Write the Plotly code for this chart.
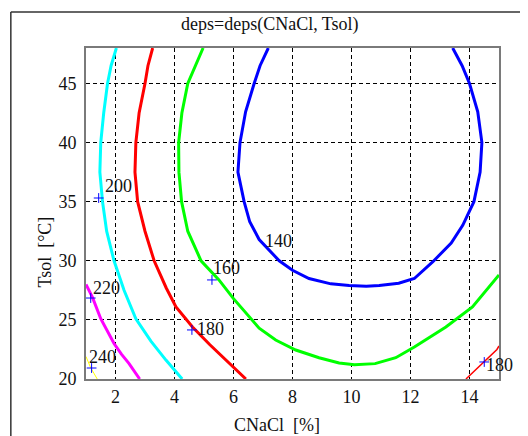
import plotly.graph_objects as go

# contour level 140 (blue)
c140_x = [7.18, 6.9, 6.7, 6.41, 6.22, 6.15, 6.36, 6.55, 6.87, 7.55, 8.0, 8.56, 9.3, 9.92, 10.5, 10.94, 11.6, 12.13, 12.75, 13.38, 13.77, 14.15, 14.36, 14.42, 14.28, 14.0, 13.75, 13.43]
c140_y = [48, 46.5, 45, 42.6, 40, 37.5, 35, 33.3, 31.8, 30, 29.2, 28.5, 28.05, 27.9, 27.85, 27.9, 28.1, 28.5, 29.9, 31.5, 33.0, 35, 37.5, 40, 42.6, 45, 46.5, 48]
# contour level 160 (green)
c160_x = [4.97, 4.7, 4.45, 4.25, 4.14, 4.15, 4.24, 4.45, 4.9, 5.5, 6.0, 6.87, 7.43, 8.11, 8.9, 9.58, 10.1, 10.8, 11.5, 12.13, 13.2, 14.1, 15.0]
c160_y = [48, 46.5, 45, 42.5, 40, 37.5, 35, 32.5, 30, 28.4, 26.8, 24.3, 23.3, 22.45, 21.8, 21.35, 21.2, 21.3, 21.8, 22.7, 24.4, 26.1, 28.8]
# contour level 180 (red), left branch and right corner piece
c180_x = [3.26, 3.1, 3.0, 2.8, 2.69, 2.66, 2.75, 3.0, 3.31, 3.72, 4.05, 4.61, 5.2, 5.69, 6.1, 6.42]
c180_y = [48, 46.5, 45, 42.5, 40, 37.5, 35, 32.5, 30, 27.7, 26.1, 24.4, 22.9, 21.75, 20.8, 20]
c180r_x = [13.88, 14.4, 14.93, 15.0]
c180r_y = [20, 21.2, 22.5, 22.8]
# contour level 200 (cyan)
c200_x = [2.03, 1.85, 1.73, 1.6, 1.5, 1.47, 1.56, 1.7, 1.95, 2.29, 2.69, 3.2, 3.71, 4.26]
c200_y = [48, 46.5, 45, 42.5, 40, 37.5, 35, 32.5, 30, 27.5, 25.1, 23.2, 21.6, 20]
# contour level 220 (magenta)
c220_x = [1.0, 1.22, 1.5, 1.75, 1.95, 2.2, 2.46, 2.82]
c220_y = [28.0, 26.9, 25.1, 23.9, 23.0, 22.1, 21.3, 20]
# contour level 240 (yellow)
c240_x = [1.0, 1.15, 1.38]
c240_y = [21.9, 21.0, 20]

# contour labels (data coordinates)
lab_text = ["140", "160", "180", "200", "220", "240"]
lab_x = [7.51, 5.76, 5.22, 2.11, 1.70, 1.55]
lab_y = [31.68, 29.35, 24.27, 36.29, 27.70, 21.86]
# label sitting on the right border (paper coordinates, since it straddles the axis edge)
edge_lab_text = "180"
edge_lab_pos = (1.0024, 0.0438)
mark_x = [5.27, 4.59, 14.5, 1.43, 1.16, 1.19]
mark_y = [28.38, 24.15, 21.44, 35.31, 26.85, 20.93]

x_ticks = [2, 4, 6, 8, 10, 12, 14]
y_ticks = [20, 25, 30, 35, 40, 45]

FONT = "Liberation Serif"
TXT = "#111111"

fig = go.Figure()
series = [
    (c140_x, c140_y, "#0000FF", 3),
    (c160_x, c160_y, "#00FF00", 3),
    (c180_x, c180_y, "#FF0000", 3),
    (c180r_x, c180r_y, "#FF0000", 1.5),
    (c200_x, c200_y, "#00FFFF", 3),
    (c220_x, c220_y, "#FF00FF", 3),
    (c240_x, c240_y, "#FFFF00", 1),
]
for xs, ys, col, w in series:
    fig.add_trace(go.Scatter(x=xs, y=ys, mode="lines", line=dict(color=col, width=w),
                             hoverinfo="skip", showlegend=False))

fig.add_trace(go.Scatter(x=mark_x, y=mark_y, mode="markers",
                         marker=dict(symbol="cross-thin", size=7, line=dict(color="#0000FF", width=1)),
                         showlegend=False, hoverinfo="skip"))

for t, x, y in zip(lab_text, lab_x, lab_y):
    fig.add_annotation(x=x, y=y, text=t, showarrow=False, xref="x", yref="y",
                       xanchor="center", yanchor="middle",
                       font=dict(family=FONT, size=18, color=TXT))
fig.add_annotation(x=edge_lab_pos[0], y=edge_lab_pos[1], text=edge_lab_text, showarrow=False,
                   xref="paper", yref="paper", xanchor="center", yanchor="middle",
                   font=dict(family=FONT, size=18, color=TXT))

fig.add_annotation(x=0.445, y=1.072, xref="paper", yref="paper", text="deps=deps(CNaCl, Tsol)",
                   showarrow=False, xanchor="center", yanchor="middle",
                   font=dict(family=FONT, size=18, color=TXT))
fig.add_annotation(x=0.462, y=-0.139, xref="paper", yref="paper", text="CNaCl\u00a0\u00a0[%]",
                   showarrow=False, xanchor="center", yanchor="middle",
                   font=dict(family=FONT, size=18, color=TXT))
fig.add_annotation(x=-0.1, y=0.384, xref="paper", yref="paper", text="Tsol\u00a0\u00a0[°C]", textangle=-90,
                   showarrow=False, xanchor="center", yanchor="middle",
                   font=dict(family=FONT, size=18, color=TXT))

# outer frame
fig.add_shape(type="line", xref="paper", yref="paper", x0=-0.182, x1=1.2, y0=1.109, y1=1.109,
              line=dict(color="#333333", width=1.5))
fig.add_shape(type="line", xref="paper", yref="paper", x0=-0.182, x1=-0.182, y0=1.109, y1=-0.3,
              line=dict(color="#333333", width=1.5))

axis_common = dict(showline=True, linecolor="#7a7a7a", linewidth=2, mirror=True,
                   showgrid=True, gridcolor="#000000", gridwidth=1, griddash="4px,3px",
                   zeroline=False, ticks="", tickfont=dict(family=FONT, size=18, color=TXT))

fig.update_xaxes(range=[1, 15], tickvals=x_ticks, ticktext=[str(v) for v in x_ticks],
                 ticklabelstandoff=0, **axis_common)
fig.update_yaxes(range=[20, 48], tickvals=y_ticks, ticktext=[str(v) for v in y_ticks],
                 ticklabelstandoff=4, **axis_common)

# page body has an 8px margin, so the figure is offset by (8, 8) in the window
fig.update_layout(width=520, height=428, margin=dict(l=78, r=29, t=40, b=57),
                  paper_bgcolor="white", plot_bgcolor="white", showlegend=False)

fig.write_html("out.html")
